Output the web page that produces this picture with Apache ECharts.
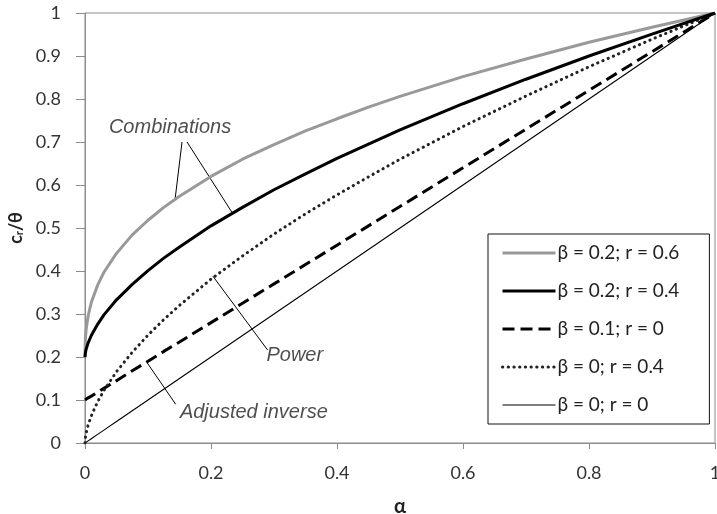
<!DOCTYPE html>
<html>
<head>
<meta charset="utf-8">
<script src="https://cdn.jsdelivr.net/npm/echarts@6/dist/echarts.min.js"></script>
<style>
  html, body { margin: 0; padding: 0; background: #fff; }
  #chart { width: 717px; height: 514px; }
</style>
</head>
<body>
<div id="chart"></div>
<script>
// Sampled alpha values (denser near zero where the curves bend sharply)
const alphas = [0, 0.0005, 0.001, 0.002, 0.005, 0.01, 0.02, 0.03, 0.05, 0.075, 0.1, 0.125, 0.15, 0.2, 0.25, 0.3, 0.35, 0.4, 0.45, 0.5, 0.6, 0.7, 0.8, 0.9, 1];

// c_r / theta for each parameter combination
const combA      = [0.2, 0.238, 0.250, 0.267, 0.296, 0.327, 0.367, 0.397, 0.441, 0.484, 0.518, 0.548, 0.574, 0.620, 0.660, 0.694, 0.726, 0.754, 0.781, 0.806, 0.852, 0.893, 0.932, 0.967, 1];
const combB      = [0.2, 0.208, 0.213, 0.219, 0.233, 0.250, 0.276, 0.298, 0.333, 0.369, 0.401, 0.430, 0.456, 0.505, 0.548, 0.589, 0.626, 0.662, 0.695, 0.728, 0.789, 0.846, 0.900, 0.951, 1];
const adjInverse = [0.1, 0.100, 0.101, 0.102, 0.105, 0.109, 0.118, 0.127, 0.145, 0.168, 0.190, 0.213, 0.235, 0.280, 0.325, 0.370, 0.415, 0.460, 0.505, 0.550, 0.640, 0.730, 0.820, 0.910, 1];
const power      = [0, 0.010, 0.016, 0.024, 0.042, 0.063, 0.096, 0.122, 0.166, 0.211, 0.251, 0.287, 0.320, 0.381, 0.435, 0.486, 0.533, 0.577, 0.619, 0.660, 0.736, 0.807, 0.875, 0.939, 1];
const linear     = [0, 0.0005, 0.001, 0.002, 0.005, 0.01, 0.02, 0.03, 0.05, 0.075, 0.1, 0.125, 0.15, 0.2, 0.25, 0.3, 0.35, 0.4, 0.45, 0.5, 0.6, 0.7, 0.8, 0.9, 1];

const seriesNames = ['β = 0.2; r = 0.6', 'β = 0.2; r = 0.4', 'β = 0.1; r = 0', 'β = 0; r = 0.4', 'β = 0; r = 0'];

// Callout labels and their leader lines, in data coordinates
const callouts = [
  { text: 'Combinations', at: [0.135, 0.733], lines: [[[0.154, 0.700], [0.143, 0.567]], [[0.162, 0.700], [0.233, 0.537]]] },
  { text: 'Power', at: [0.333, 0.203], lines: [[[0.203, 0.388], [0.290, 0.216]]] },
  { text: 'Adjusted inverse', at: [0.268, 0.072], lines: [[[0.098, 0.188], [0.144, 0.090]]] }
];

const FONT = 'Lato, "Open Sans", sans-serif';
const CALLOUT_FONT = '"Liberation Sans", Arial, sans-serif';

// Line styles shared by each series and its legend entry
const styles = [
  { color: '#999999', width: 3 },
  { color: '#000', width: 3 },
  { color: '#000', width: 3, type: [12, 6] },
  { color: '#222', width: 3, type: [0.3, 5.4], cap: 'round' },
  { color: '#000', width: 1.1 }
];

function pairs(ys) { return alphas.map((a, i) => [a, ys[i]]); }

const chart = echarts.init(document.getElementById('chart'), null, { renderer: 'canvas' });

const leaderData = [];
callouts.forEach(c => c.lines.forEach(l => leaderData.push([{ coord: l[0] }, { coord: l[1] }])));

const seriesValues = [combA, combB, adjInverse, power, linear];

const series = seriesValues.map((vals, i) => ({
  name: seriesNames[i], type: 'line', data: pairs(vals), symbol: 'none',
  lineStyle: styles[i], itemStyle: { color: styles[i].color }, z: i < 2 ? 5 : (i < 4 ? 4 : 3)
}));

series[4].markLine = {
  silent: true, symbol: ['none', 'none'], animation: false,
  lineStyle: { color: '#000', width: 1, type: 'solid' },
  label: { show: false },
  data: leaderData
};

series.push({
  // callout texts
  type: 'scatter', symbolSize: 0, silent: true, z: 6,
  data: callouts.map(c => ({ value: c.at, name: c.text })),
  label: {
    show: true, position: 'inside', formatter: p => p.name,
    fontFamily: CALLOUT_FONT, fontSize: 20, fontStyle: 'italic', color: '#222'
  }
});

const option = {
  animation: false,
  backgroundColor: '#fff',
  grid: {
    left: 85, right: 2, top: 13, bottom: 71,
    outerBoundsMode: 'none', containLabel: false,
    show: true, borderColor: '#8c8c8c', borderWidth: 1, backgroundColor: 'transparent'
  },
  xAxis: {
    type: 'value', min: 0, max: 1, interval: 0.2,
    name: 'α', nameLocation: 'middle', nameGap: 54,
    nameTextStyle: { fontFamily: FONT, fontSize: 20, fontWeight: 'bold', color: '#222' },
    axisLine: { show: true, lineStyle: { color: '#8c8c8c', width: 1 } },
    axisTick: { show: true, inside: false, length: 6, lineStyle: { color: '#8c8c8c' } },
    axisLabel: { fontFamily: FONT, fontSize: 18, color: '#333', margin: 21, formatter: v => String(+v.toFixed(1)) },
    splitLine: { show: false }
  },
  yAxis: {
    type: 'value', min: 0, max: 1, interval: 0.1,
    name: 'c{sub|r}/θ', nameLocation: 'middle', nameGap: 58, nameRotate: 90,
    nameTextStyle: {
      fontFamily: FONT, fontSize: 18, fontWeight: 'bold', color: '#222',
      rich: { sub: { fontFamily: FONT, fontSize: 11, fontWeight: 'bold', color: '#222', verticalAlign: 'bottom', padding: [7, 0, 0, 0] } }
    },
    axisLine: { show: true, lineStyle: { color: '#8c8c8c', width: 1 } },
    axisTick: { show: true, inside: false, length: 9, lineStyle: { color: '#8c8c8c' } },
    axisLabel: { fontFamily: FONT, fontSize: 18, color: '#333', margin: 24, formatter: v => String(+v.toFixed(1)) },
    splitLine: { show: false }
  },
  legend: {
    orient: 'vertical', left: 488, top: 234,
    padding: [9, 30, 9, 13],
    itemWidth: 53, itemHeight: 14, itemGap: 18,
    borderColor: '#111', borderWidth: 1, backgroundColor: '#fff',
    itemStyle: { color: 'transparent', borderWidth: 0, opacity: 0 },
    textStyle: { fontFamily: FONT, fontSize: 19, lineHeight: 20, color: '#222', padding: [0, 0, 0, -3] },
    data: seriesNames.map((n, i) => ({ name: n, lineStyle: Object.assign({}, styles[i]) }))
  },
  series: series
};

chart.setOption(option);
</script>
</body>
</html>
